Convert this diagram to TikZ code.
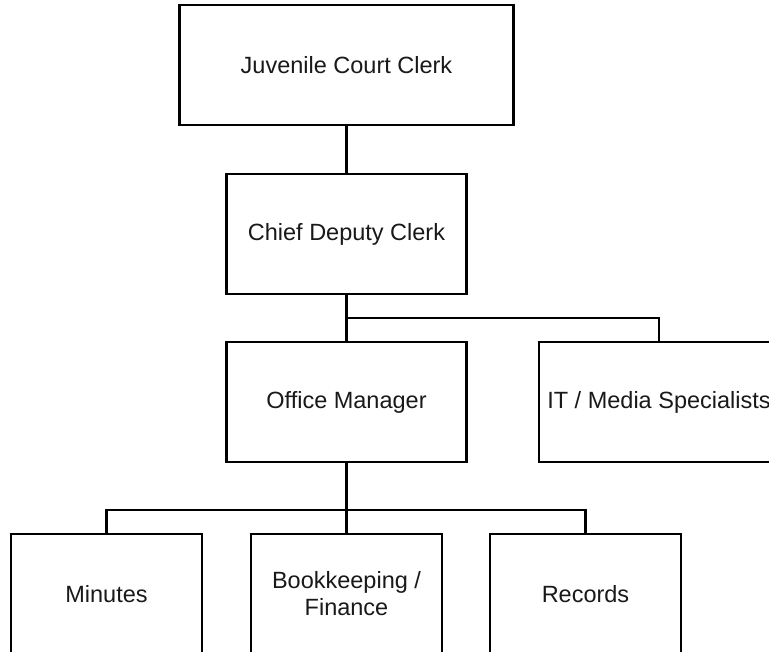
\documentclass[tikz,border=0pt]{standalone}
\usepackage{fontspec}
\setmainfont{Liberation Sans}
\begin{document}
\begin{tikzpicture}[x=1pt,y=-1pt,
  orgbox/.style={draw=black, fill=white, line width=2.8pt, line join=miter, inner sep=0pt,
    minimum height=120pt, align=center, text=black!90,
    font=\fontsize{23.5}{27}\selectfont},
  link/.style={draw=black, line width=2.8pt, line cap=rect}]
\useasboundingbox (0,0) rectangle (769,652);
\clip (0,0) rectangle (769,652);
% connectors first
\coordinate (j1) at (346.5,318);
\coordinate (j2) at (346.5,510);
\node[orgbox, minimum width=334pt] (top) at (346.5,65) {Juvenile Court Clerk};
\node[orgbox, minimum width=240pt] (chief) at (346.5,234) {Chief Deputy Clerk};
\node[orgbox, minimum width=240pt] (office) at (346.5,402) {Office Manager};
\node[orgbox, minimum width=240pt] (it) at (659,402) {IT / Media Specialists};
\node[orgbox, minimum width=191pt] (minutes) at (106.5,594) {Minutes};
\node[orgbox, minimum width=191pt] (book) at (346.5,594) {Bookkeeping /\\Finance};
\node[orgbox, minimum width=191pt] (records) at (585.5,594) {Records};
\draw[link] (top.south) -- (chief.north);
\draw[link] (chief.south) -- (office.north);
\draw[link] (j1) -| (it.north);
\draw[link] (office.south) -- (book.north);
\draw[link] (minutes.north) |- (j2) -| (records.north);
\end{tikzpicture}
\end{document}
